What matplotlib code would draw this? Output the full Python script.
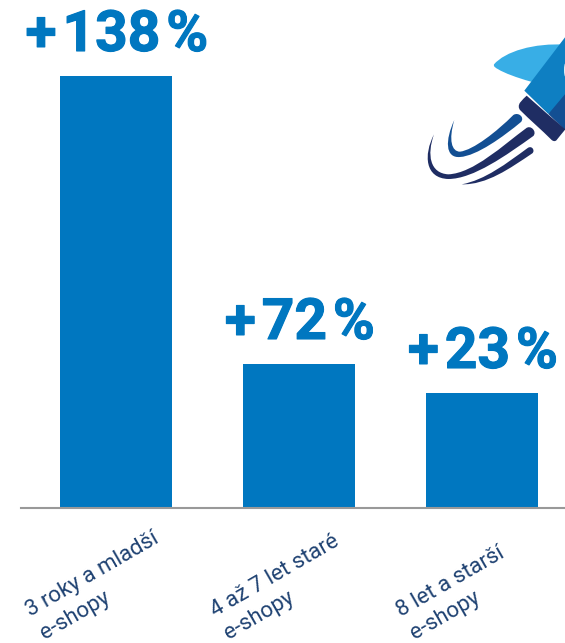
import numpy as np
import matplotlib
matplotlib.use('Agg')
import matplotlib.pyplot as plt
import matplotlib.patheffects as pe
from matplotlib.path import Path
from matplotlib.patches import PathPatch, Polygon, Ellipse

plt.rcParams['font.family'] = ['Roboto', 'DejaVu Sans']

categories = ['3 roky a mladší\ne-shopy', '4 až 7 let staré\ne-shopy', '8 let a starší\ne-shopy']
growth = [138, 72, 23]
value_labels = ['+\u200a138\u200a%', '+\u200a72\u200a%', '+\u200a23\u200a%']

# the bars are not to a linear scale: low values are stretched, so the axis
# goes through these knots instead of being proportional
scale_values = [0, 23, 72, 138, 200]
scale_heights = [0, 115, 144, 432, 508]

BLUE = '#0077c0'
NAVY = '#1f2d63'
MID = '#134f93'
LABEL = '#1f4272'


def forward(y):
    return np.interp(y, scale_values, scale_heights)


def inverse(y):
    return np.interp(y, scale_heights, scale_values)


def curve(start, *segments):
    # closed bezier outline, each segment is (control, control, end)
    verts = [start]
    codes = [Path.MOVETO]
    for seg in segments:
        verts.extend(seg)
        codes.extend([Path.CURVE4] * 3)
    verts.append(start)
    codes.append(Path.CLOSEPOLY)
    return np.array(verts, dtype=float)


def addShape(ax, points, color, closed_curve=True):
    # icon outlines are sketched at 3x, origin at (410, 30)
    points = np.asarray(points, dtype=float) / 3 + [410, 30]
    if closed_curve:
        codes = [Path.MOVETO] + [Path.CURVE4] * (len(points) - 2) + [Path.CLOSEPOLY]
        ax.add_patch(PathPatch(Path(points, codes), facecolor=color, edgecolor='none'))
    else:
        ax.add_patch(Polygon(points, closed=True, facecolor=color, edgecolor='none'))


def addRocket(fig):
    ax = fig.add_axes([0, 0, 1, 1], zorder=3)
    ax.set_xlim(0, 565)
    ax.set_ylim(643, 0)
    ax.axis('off')

    fin = curve((252, 103),
                ((285, 65), (370, 38), (470, 44)),
                ((470, 80), (470, 120), (470, 175)),
                ((420, 175), (300, 140), (265, 118)),
                ((256, 113), (250, 110), (252, 103)))
    addShape(ax, fin, '#38aee6')
    addShape(ax, [(343, 182), (465, 22), (480, 10), (480, 200), (415, 252)], '#0e7fc2', False)
    addShape(ax, [(415, 252), (480, 175), (480, 320), (465, 300)], MID, False)
    ax.add_patch(Ellipse((565.5, 70), 3, 14, facecolor='#dfeef7', edgecolor='none'))
    nozzle = curve((330, 218),
                   ((337, 210), (343, 203), (350, 197)),
                   ((390, 232), (430, 268), (466, 298)),
                   ((456, 310), (448, 320), (440, 330)),
                   ((436, 335), (430, 334), (425, 330)),
                   ((395, 300), (360, 270), (330, 240)),
                   ((325, 233), (325, 226), (330, 218)))
    addShape(ax, nozzle, NAVY)

    swoosh1 = curve((133, 270),
                    ((105, 330), (105, 385), (150, 381)),
                    ((200, 378), (280, 320), (333, 276)),
                    ((345, 262), (325, 245), (310, 255)),
                    ((260, 305), (190, 360), (150, 365)),
                    ((125, 365), (115, 330), (133, 270)))
    addShape(ax, swoosh1, MID)
    swoosh2 = curve((72, 313),
                    ((40, 375), (45, 445), (115, 447)),
                    ((190, 447), (290, 375), (370, 318)),
                    ((382, 305), (362, 283), (348, 295)),
                    ((280, 345), (190, 430), (115, 433)),
                    ((60, 430), (50, 375), (72, 313)))
    addShape(ax, swoosh2, NAVY)
    swoosh3 = curve((155, 463),
                    ((230, 465), (300, 415), (367, 370)),
                    ((376, 362), (366, 345), (353, 354)),
                    ((290, 400), (225, 450), (155, 463)),
                    ((155, 463), (155, 463), (155, 463)))
    addShape(ax, swoosh3, NAVY)


def main() -> None:
    fig = plt.figure(figsize=(5.65, 6.43), dpi=100)
    ax = fig.add_axes([21 / 565, 135 / 643, 544 / 565, 508 / 643])
    ax.set_yscale('function', functions=(forward, inverse))
    ax.set_ylim(0, 200)
    ax.set_xlim(-0.5246 + 1 / 183, 2.4536)

    positions = np.arange(len(growth))
    ax.bar(positions, growth, width=0.612, color=BLUE)

    for x, value, text in zip(positions, growth, value_labels):
        ax.annotate(text, xy=(x, value), xytext=(1, 13), textcoords='offset pixels',
                    ha='center', va='bottom', fontsize=41, fontweight='bold', color=BLUE,
                    path_effects=[pe.withStroke(linewidth=0.8, foreground=BLUE)])

    # second line starts under the first one, so the block is left aligned
    label_shift = [-93, -92, -89]
    for x, text, shift in zip(positions, categories, label_shift):
        ax.annotate(text, xy=(x, 0), xytext=(shift, -95), textcoords='offset pixels',
                    ha='left', va='top', ma='left', rotation=30, rotation_mode='anchor',
                    fontsize=16, color=LABEL, linespacing=1.35, annotation_clip=False)

    for side in ['top', 'right', 'left']:
        ax.spines[side].set_visible(False)
    ax.spines['bottom'].set_color('#999999')
    ax.spines['bottom'].set_linewidth(1.5)
    ax.set_xticks([])
    ax.set_yticks([])
    ax.minorticks_off()
    ax.patch.set_alpha(0)

    addRocket(fig)
    fig.savefig('out.png', dpi=100)


if __name__ == '__main__':
    main()
